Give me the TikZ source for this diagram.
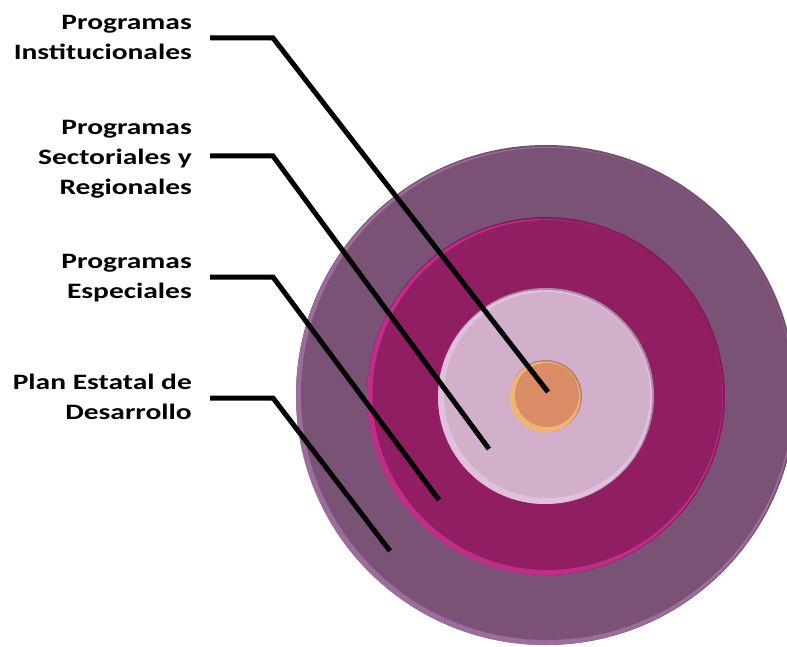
\documentclass[tikz,border=0pt]{standalone}
\usepackage{fontspec}
\setmainfont{Carlito}[FakeStretch=1.34]
\definecolor{outerC}{HTML}{7A5276}
\definecolor{outerRim}{HTML}{9C6C9B}
\definecolor{outerDark}{HTML}{735070}
\definecolor{midC}{HTML}{911E62}
\definecolor{midRim}{HTML}{C02D89}
\definecolor{midDark}{HTML}{821C5A}
\definecolor{inC}{HTML}{D2AFCB}
\definecolor{inRim}{HTML}{E0C0DA}
\definecolor{inDark}{HTML}{B08AA8}
\definecolor{orC}{HTML}{D98C66}
\definecolor{orRim}{HTML}{F0B476}
\definecolor{orDark}{HTML}{B88068}
\tikzset{
  lab/.style={anchor=east, align=right, inner sep=0pt, font=\fontsize{22bp}{30bp}\selectfont\bfseries},
  conn/.style={line width=5bp, black, line join=miter},
}
\begin{document}
\begin{tikzpicture}[x=1bp,y=-1bp]
\useasboundingbox (0,0) rectangle (787,647);
% outer ring
\fill[outerDark] (546,395) circle[radius=250];
\fill[outerRim] (545,396) circle[radius=249];
\fill[outerC] (547,394) circle[radius=246];
% middle
\fill[midDark] (546,396) circle[radius=179];
\fill[midRim] (545,397) circle[radius=178];
\fill[midC] (547.5,395) circle[radius=175];
% inner
\fill[inDark] (546,396) circle[radius=108];
\fill[inRim] (545,397) circle[radius=107];
\fill[inC] (547,395) circle[radius=103];
% core
\fill[orDark] (546,396) circle[radius=36];
\fill[orRim] (545,397) circle[radius=35.5];
\fill[orC] (547,395) circle[radius=32];
% labels
\node[lab] (l1) at (192,37) {Programas\\Institucionales};
\node[lab] (l2) at (192,159) {Programas\\Sectoriales y\\Regionales};
\node[lab] (l3) at (192,278) {Programas\\Especiales};
\node[lab] (l4) at (192,397) {Plan Estatal de\\Desarrollo};
% connector points
\coordinate (s1) at (210,38);  \coordinate (b1) at (273,38);  \coordinate (e1) at (548,392);
\coordinate (s2) at (210,156); \coordinate (b2) at (273,156); \coordinate (e2) at (489,449);
\coordinate (s3) at (210,277); \coordinate (b3) at (273,277); \coordinate (e3) at (439,500);
\coordinate (s4) at (210,398); \coordinate (b4) at (273,398); \coordinate (e4) at (390,551);
\draw[conn] (s1) -- (b1) -- (e1);
\draw[conn] (s2) -- (b2) -- (e2);
\draw[conn] (s3) -- (b3) -- (e3);
\draw[conn] (s4) -- (b4) -- (e4);
\end{tikzpicture}
\end{document}
